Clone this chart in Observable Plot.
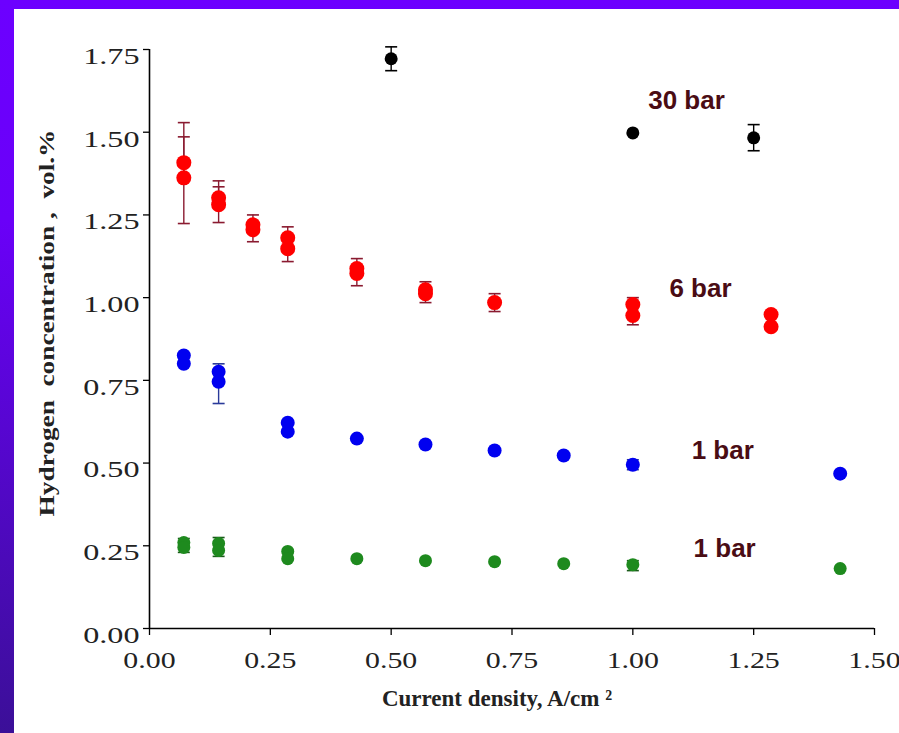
<!DOCTYPE html>
<html>
<head>
<meta charset="utf-8">
<script src="https://cdn.jsdelivr.net/npm/d3@7"></script>
<script src="https://cdn.jsdelivr.net/npm/@observablehq/plot@0.6"></script>
<style>
  html, body { margin: 0; padding: 0; }
  body { width: 899px; height: 733px; overflow: hidden; background: linear-gradient(#6c00ff, #6a00f8 30%, #3b0f98); position: relative; }
  #chart { position: absolute; left: 14px; top: 9px; width: 885px; height: 724px; background: #fff; }
</style>
</head>
<body>
<div id="chart"></div>
<script>
// ---- data ----
const xTicks = [0, 0.25, 0.5, 0.75, 1.0, 1.25, 1.5];
const yTicks = [0, 0.25, 0.5, 0.75, 1.0, 1.25, 1.5, 1.75];

// 30 bar (black)
const x30 = [0.5, 1.0, 1.25];
const y30 = [1.722, 1.498, 1.483];
const e30x = [0.5, 1.25];
const e30lo = [1.686, 1.444];
const e30hi = [1.758, 1.523];

// 6 bar (red)
const x6 = [0.071, 0.071, 0.143, 0.143, 0.214, 0.214, 0.286, 0.286, 0.429, 0.429, 0.571, 0.571, 0.714, 1.0, 1.0, 1.286, 1.286];
const y6 = [1.408, 1.362, 1.302, 1.281, 1.22, 1.205, 1.181, 1.148, 1.088, 1.073, 1.024, 1.012, 0.985, 0.979, 0.946, 0.949, 0.912];
const e6x = [0.071, 0.071, 0.143, 0.143, 0.214, 0.286, 0.429, 0.571, 0.714, 1.0];
const e6lo = [1.224, 1.36, 1.227, 1.28, 1.169, 1.109, 1.036, 0.985, 0.958, 0.918];
const e6hi = [1.529, 1.486, 1.353, 1.335, 1.25, 1.214, 1.118, 1.048, 1.012, 1.0];

// 1 bar (blue)
const x1b = [0.071, 0.071, 0.143, 0.143, 0.286, 0.286, 0.429, 0.571, 0.714, 0.857, 1.0, 1.429];
const y1b = [0.825, 0.80, 0.776, 0.746, 0.622, 0.595, 0.574, 0.556, 0.538, 0.523, 0.495, 0.468];
const e1bx = [0.143, 0.286, 1.0];
const e1blo = [0.68, 0.59, 0.48];
const e1bhi = [0.80, 0.625, 0.51];

// 1 bar (green)
const x1g = [0.071, 0.071, 0.143, 0.143, 0.286, 0.286, 0.429, 0.571, 0.714, 0.857, 1.0, 1.429];
const y1g = [0.26, 0.245, 0.257, 0.236, 0.233, 0.211, 0.211, 0.205, 0.202, 0.196, 0.193, 0.181];
const e1gx = [0.071, 0.143, 1.0];
const e1glo = [0.23, 0.218, 0.175];
const e1ghi = [0.272, 0.275, 0.205];

// series labels
const labelText = ["30 bar", "6 bar", "1 bar", "1 bar"];
const labelX = [1.111, 1.14, 1.186, 1.19];
const labelY = [1.595, 1.027, 0.538, 0.242];

const xLabel = "Current density, A/cm ²";
const yLabel = "Hydrogen  concentration ,  vol.%";

// ---- build tables ----
const pts = (xs, ys) => xs.map((x, i) => ({x, y: ys[i]}));
const errs = (xs, lo, hi) => xs.map((x, i) => ({x, lo: lo[i], hi: hi[i]}));

const series = [
  {p: pts(x30, y30), e: errs(e30x, e30lo, e30hi), fill: "#000000", bar: "#000000", r: 6.5},
  {p: pts(x6, y6), e: errs(e6x, e6lo, e6hi), fill: "#ff0000", bar: "#8a1a30", r: 7.5},
  {p: pts(x1b, y1b), e: errs(e1bx, e1blo, e1bhi), fill: "#0000f0", bar: "#2a3a9a", r: 7},
  {p: pts(x1g, y1g), e: errs(e1gx, e1glo, e1ghi), fill: "#1e8a1e", bar: "#1a5a1a", r: 6.5}
];
const labels = labelText.map((t, i) => ({t, x: labelX[i], y: labelY[i]}));

const cap = {
  draw(ctx, size) {
    const w = Math.sqrt(size / Math.PI);
    ctx.moveTo(-w, 0);
    ctx.lineTo(w, 0);
  }
};

const marks = [];
marks.push(Plot.axisX({ticks: xTicks, tickFormat: d3.format(".2f"), tickSize: 7, tickPadding: 16, label: null, stroke: "#000", strokeWidth: 1.3, fill: "#222", fontSize: 23}));
marks.push(Plot.axisY({ticks: yTicks, tickFormat: d3.format(".2f"), tickSize: 6, tickPadding: 4, label: null, stroke: "#000", strokeWidth: 1.3, fill: "#222", fontSize: 23}));
marks.push(Plot.ruleY([0], {x1: 0, x2: 1.5, stroke: "#000", strokeWidth: 1.6}));
marks.push(Plot.ruleX([0], {y1: 0, y2: 1.75, stroke: "#000", strokeWidth: 1.6}));

for (const s of series) {
  marks.push(Plot.ruleX(s.e, {x: "x", y1: "lo", y2: "hi", stroke: s.bar, strokeWidth: 1.4}));
  marks.push(Plot.dot(s.e, {x: "x", y: "lo", symbol: cap, r: 6, stroke: s.bar, strokeWidth: 1.6, fill: "none"}));
  marks.push(Plot.dot(s.e, {x: "x", y: "hi", symbol: cap, r: 6, stroke: s.bar, strokeWidth: 1.6, fill: "none"}));
  marks.push(Plot.dot(s.p, {x: "x", y: "y", r: s.r, fill: s.fill, stroke: "none"}));
}

marks.push(Plot.text(labels, {x: "x", y: "y", text: "t", fill: "#4a0c14", fontSize: 26, fontWeight: "bold", fontFamily: "'Liberation Sans', Arial, sans-serif", textAnchor: "middle"}));
marks.push(Plot.text([xLabel], {frameAnchor: "bottom", lineAnchor: "middle", textAnchor: "middle", dx: -15, dy: 70, fontSize: 23, fontWeight: "bold", fill: "#222", fontFamily: "'Liberation Serif', serif"}));
marks.push(Plot.text([yLabel], {frameAnchor: "left", textAnchor: "middle", rotate: -90, dx: -102, dy: -16, fontSize: 21, fontWeight: "bold", fill: "#222", fontFamily: "'Liberation Serif', serif"}));

const chart = Plot.plot({
  width: 885,
  height: 724,
  marginLeft: 135,
  marginRight: 25,
  marginTop: 40,
  marginBottom: 105,
  x: {domain: [0, 1.5]},
  y: {domain: [0, 1.75]},
  style: {fontFamily: "'Liberation Serif', 'Times New Roman', serif", fontSize: "21px", background: "#fff", color: "#222", overflow: "visible"},
  marks
});
document.getElementById("chart").appendChild(chart);

// widen the serif texts along their baseline like the reference (and drop y tick labels a little)
const tickX = new Set(xTicks.map(d3.format(".2f")));
d3.select(chart).selectAll("text").each(function() {
  const s = this.textContent;
  const t = this.getAttribute("transform") || "";
  const isYTick = this.getAttribute("text-anchor") === "end" || (this.parentNode && this.parentNode.getAttribute("text-anchor") === "end");
  if (s === yLabel) {
    this.setAttribute("transform", t + " scale(1.3,1)");
  } else if (tickX.has(s) || /^\d\.\d\d$/.test(s)) {
    const g = this.parentNode && this.parentNode.getAttribute("aria-label") || "";
    if (g.startsWith("y-axis")) this.setAttribute("transform", t + " translate(0,7) scale(1.4,1)");
    else this.setAttribute("transform", t + " scale(1.3,1)");
  }
});
</script>
</body>
</html>
